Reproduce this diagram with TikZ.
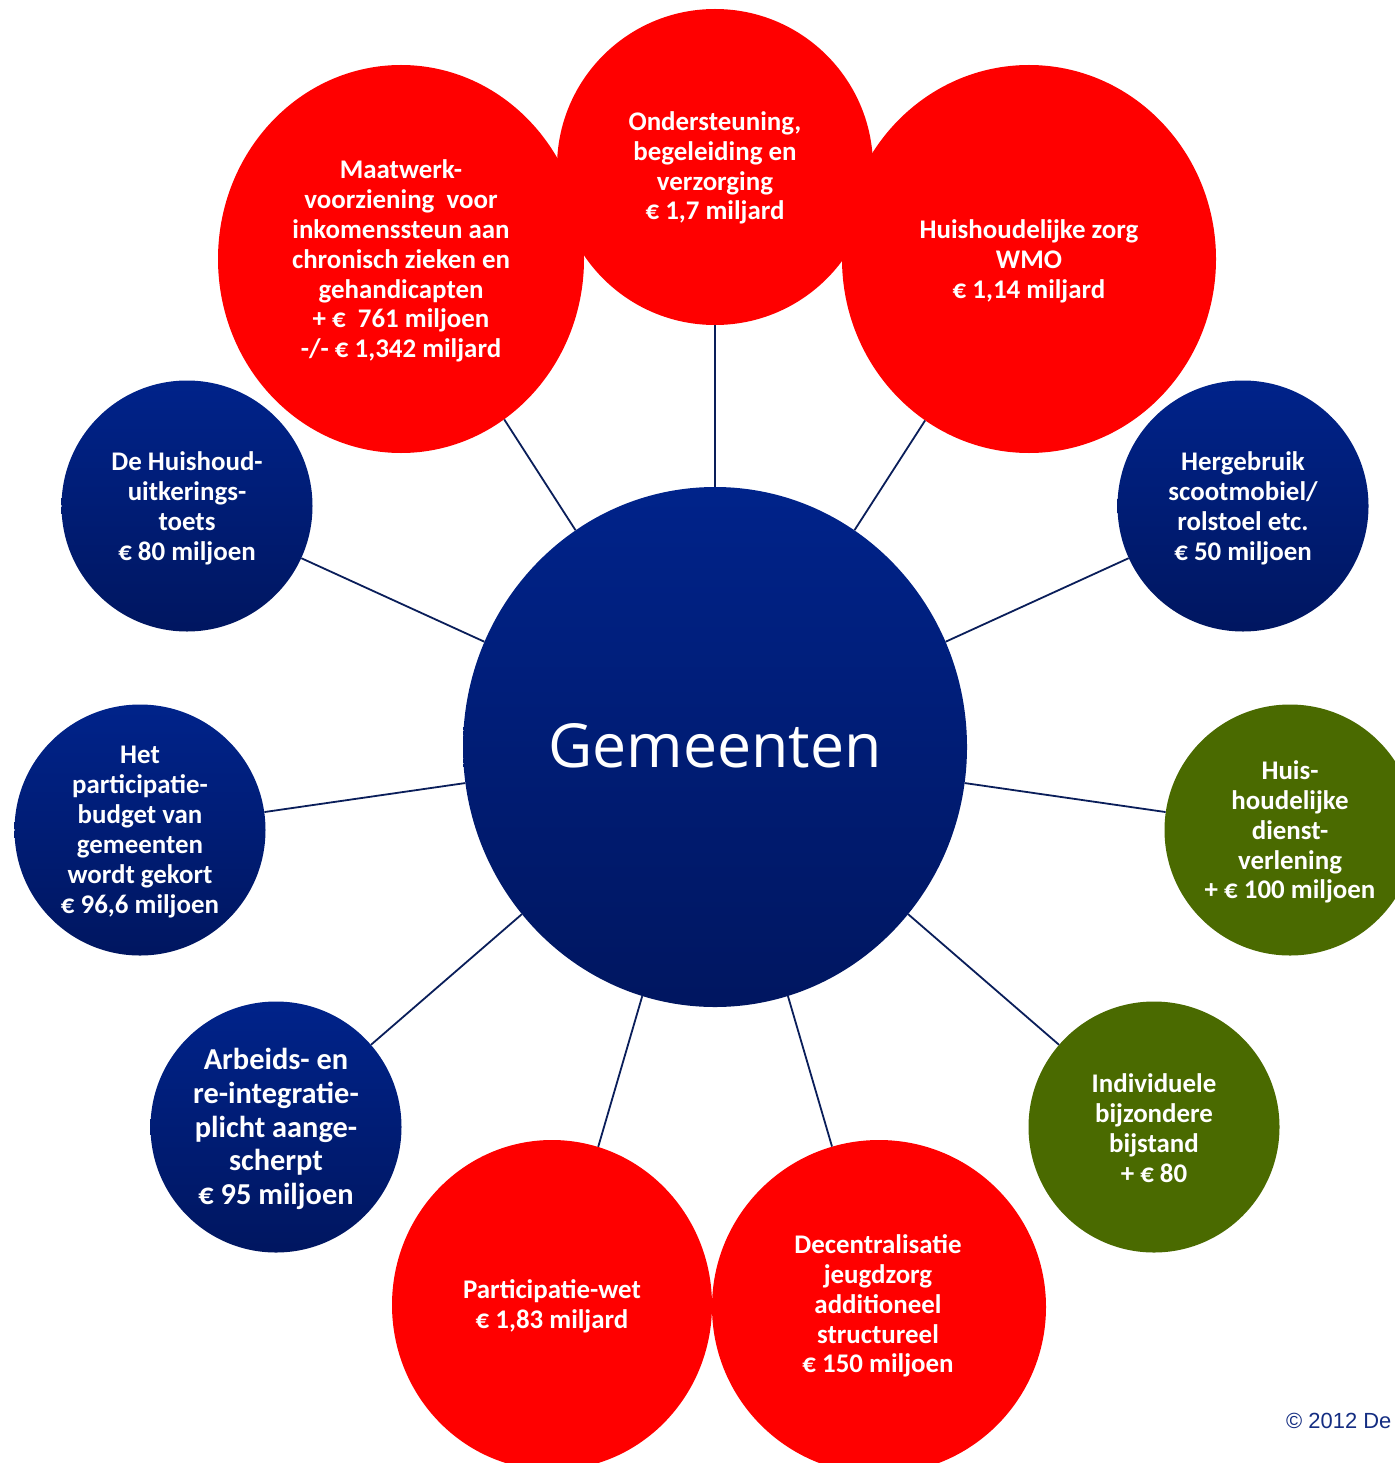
\documentclass[tikz,border=0pt]{standalone}
\usepackage{fontspec}
\setmainfont{Carlito}
\newfontfamily\gemfont{Open Sans}
\newfontfamily\copyfont{Liberation Sans}
\usetikzlibrary{shapes.geometric}
\definecolor{myred}{RGB}{255,0,0}
\definecolor{bluetop}{RGB}{0,35,138}
\definecolor{bluebot}{RGB}{0,22,96}
\definecolor{mygreen}{RGB}{74,106,0}
\definecolor{linecol}{RGB}{10,30,90}
\definecolor{copycol}{RGB}{20,45,130}
\tikzset{
  bubble/.style={ellipse, inner sep=0pt, draw=none},
  redbub/.style={bubble, fill=myred},
  bluebub/.style={bubble, top color=bluetop, bottom color=bluebot},
  greenbub/.style={bubble, fill=mygreen},
  smallbub/.style={minimum width=251bp, minimum height=251bp},
  btext/.style={text=white, align=center, inner sep=0pt,
    font=\bfseries\fontsize{27}{30}\selectfont},
  bigtext/.style={text=white, align=center, inner sep=0pt,
    font=\bfseries\fontsize{30.5}{34}\selectfont},
  gemtext/.style={text=white, inner sep=0pt, font=\gemfont\fontsize{61}{70}\selectfont},
  conn/.style={draw=linecol, line width=1.8bp},
}
\begin{document}
\begin{tikzpicture}[x=1bp,y=-1bp]
\clip (0,0) rectangle (1395,1463);
\fill[white] (0,0) rectangle (1395,1463);
% big red bubbles (top)
\node[redbub, minimum width=366bp, minimum height=388bp] (maat) at (401,259) {};
\node[redbub, minimum width=374bp, minimum height=388bp] (hzorg) at (1029,259) {};
\node[redbub, minimum width=316bp, minimum height=316bp] (onder) at (715,167) {};
% bottom red bubbles
\node[redbub, minimum width=320bp, minimum height=330bp] (pwet) at (552,1305) {};
\node[redbub, minimum width=334bp, minimum height=334bp] (decen) at (879,1307) {};
% blue small bubbles
\node[bluebub, smallbub] (huish) at (187,506) {};
\node[bluebub, smallbub] (herg) at (1243,506) {};
\node[bluebub, smallbub] (part) at (140,830) {};
\node[bluebub, smallbub] (arb) at (276,1127) {};
% green bubbles
\node[greenbub, smallbub] (hdienst) at (1290,830) {};
\node[greenbub, smallbub] (indiv) at (1154,1127) {};
% centre
\node[bluebub, minimum width=504bp, minimum height=520bp] (gem) at (715,747) {};
% connectors
\foreach \n in {maat,onder,hzorg,huish,herg,part,hdienst,arb,indiv,pwet,decen}
  \draw[conn] (gem) -- (\n);
% texts
\node[gemtext, anchor=base] (tgem) at (715,767) {Gemeenten};
\node[btext] (tmaat) at (401,261) {Maatwerk-\\voorziening~ voor\\inkomenssteun aan\\chronisch zieken en\\gehandicapten\\+ €~ 761 miljoen\\-/- € 1,342 miljard};
\node[btext] (tonder) at (715,168) {Ondersteuning,\\begeleiding en\\verzorging\\€ 1,7 miljard};
\node[btext] (thzorg) at (1029,261) {Huishoudelijke zorg\\WMO\\€ 1,14 miljard};
\node[btext] (thuish) at (187,508) {De Huishoud-\\uitkerings-\\toets\\€ 80 miljoen};
\node[btext] (therg) at (1243,508) {Hergebruik\\scootmobiel/\\rolstoel etc.\\€ 50 miljoen};
\node[btext] (tpart) at (140,832) {Het\\participatie-\\budget van\\gemeenten\\wordt gekort\\€ 96,6 miljoen};
\node[btext] (thdienst) at (1290,832) {Huis-\\houdelijke\\dienst-\\verlening\\+ € 100 miljoen};
\node[bigtext] (tarb) at (276,1129) {Arbeids- en\\re-integratie-\\plicht aange-\\scherpt\\€ 95 miljoen};
\node[btext] (tindiv) at (1154,1128) {Individuele\\bijzondere\\bijstand\\+ € 80};
\node[btext] (tpwet) at (552,1306) {Participatie-wet\\€ 1,83 miljard};
\node[btext] (tdecen) at (878,1306) {Decentralisatie\\jeugdzorg\\additioneel\\structureel\\€ 150 miljoen};
\node[anchor=base west, inner sep=0pt, text=copycol, font=\copyfont\fontsize{22}{25}\selectfont] (copy) at (1286,1428) {© 2012 De};
\end{tikzpicture}
\end{document}
